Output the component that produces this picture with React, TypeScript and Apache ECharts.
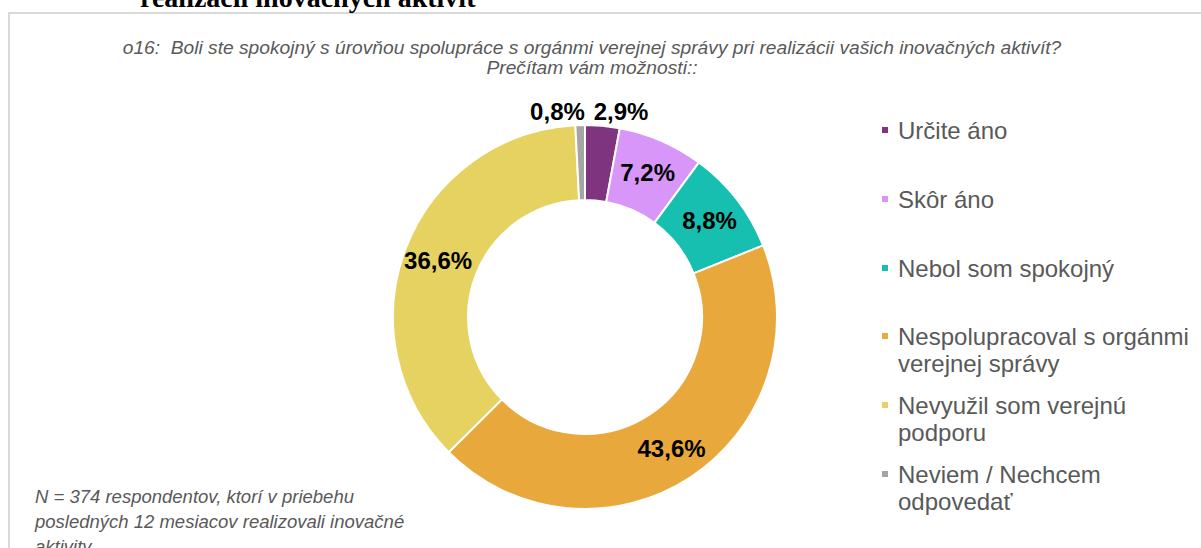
import React, { useEffect, useRef } from 'react';
import * as echarts from 'echarts';

const categories = [
  'Určite áno',
  'Skôr áno',
  'Nebol som spokojný',
  'Nespolupracoval s orgánmi\nverejnej správy',
  'Nevyužil som verejnú\npodporu',
  'Neviem / Nechcem\nodpovedať',
];
const values = [2.9, 7.2, 8.8, 43.6, 36.6, 0.8];
const colors = ['#7F3480', '#D896F9', '#17BFB0', '#E8A83B', '#E5D260', '#A5A5A5'];
const legendCenters = [130, 199, 268, 336, 405, 474];
const labelShift = [-10, 0, 0, 0, 0, 5];

const titleText =
  'o16:  Boli ste spokojný s úrovňou spolupráce s orgánmi verejnej správy pri realizácii vašich inovačných aktivít?\nPrečítam vám možnosti::';
const noteText =
  'N = 374 respondentov, ktorí v priebehu\nposledných 12 mesiacov realizovali inovačné\naktivity';
const headingText = 'realizácii inovačných aktivít';

const fmt = (v: number) => v.toFixed(1).replace('.', ',') + '%';

// square at the top of a taller box, so it lines up with the first text line
const tallIcon = 'path://M0,0L8,0L8,8L0,8Z M0,34.99L0.01,34.99L0.01,35L0,35Z';

export default function App() {
  const ref = useRef<HTMLDivElement>(null);
  useEffect(() => {
    document.body.style.margin = '0';
    const chart = echarts.init(ref.current!, undefined, { renderer: 'svg' });
    const data = categories.map((name, i) => {
      const small = values[i] < 5;
      return {
        name,
        value: values[i],
        itemStyle: { color: colors[i] },
        label: small
          ? { position: 'outside', distanceToLabelLine: 0 }
          : { position: 'inside' },
        labelLine: { show: false, length: 14, length2: 0 },
      };
    });
    const legends = categories.map((name, i) => {
      const twoLine = name.includes('\n');
      return {
        data: [name],
        orient: 'vertical',
        left: 880,
        top: legendCenters[i] - 13.5,
        padding: 0,
        icon: twoLine ? tallIcon : 'rect',
        itemWidth: 8,
        itemHeight: twoLine ? 35 : 8,
        selectedMode: false,
        textStyle: {
          fontFamily: 'Liberation Sans',
          fontSize: 24,
          lineHeight: 27,
          color: '#595959',
          padding: [0, 0, 0, 4],
        },
      };
    });
    chart.setOption({
      animation: false,
      title: {
        text: titleText,
        left: 592,
        top: 37,
        textAlign: 'center',
        padding: 0,
        textStyle: {
          fontFamily: 'Liberation Sans',
          fontSize: 19.2,
          fontStyle: 'italic',
          fontWeight: 'normal',
          color: '#595959',
          lineHeight: 20,
        },
      },
      legend: legends,
      graphic: [
        {
          type: 'rect',
          shape: { x: 9, y: 13, width: 1400, height: 800 },
          style: { fill: 'none', stroke: '#D9D9D9', lineWidth: 2 },
          silent: true,
        },
        {
          type: 'text',
          x: 140,
          y: -3,
          style: {
            text: headingText,
            fontFamily: 'Liberation Serif',
            fontWeight: 'bold',
            fontSize: 28,
            fill: '#000',
            verticalAlign: 'middle',
          },
          silent: true,
        },
        {
          type: 'text',
          x: 35,
          y: 484,
          style: {
            text: noteText,
            fontFamily: 'Liberation Sans',
            fontSize: 18.5,
            fontStyle: 'italic',
            lineHeight: 25,
            fill: '#595959',
            verticalAlign: 'top',
          },
          silent: true,
        },
      ],
      series: [
        {
          type: 'pie',
          center: [585, 317],
          radius: [117, 192],
          startAngle: 90,
          clockwise: true,
          avoidLabelOverlap: false,
          itemStyle: { borderColor: '#fff', borderWidth: 2 },
          label: {
            formatter: (p: any) => fmt(p.value),
            fontFamily: 'Liberation Sans',
            fontSize: 24,
            fontWeight: 'bold',
            color: '#000',
          },
          labelLayout: (p: any) => ({ dx: labelShift[p.dataIndex] }),
          emphasis: { disabled: true },
          data,
        },
      ],
    });
    return () => chart.dispose();
  }, []);
  return <div ref={ref} style={{ width: 1201, height: 548 }} />;
}
